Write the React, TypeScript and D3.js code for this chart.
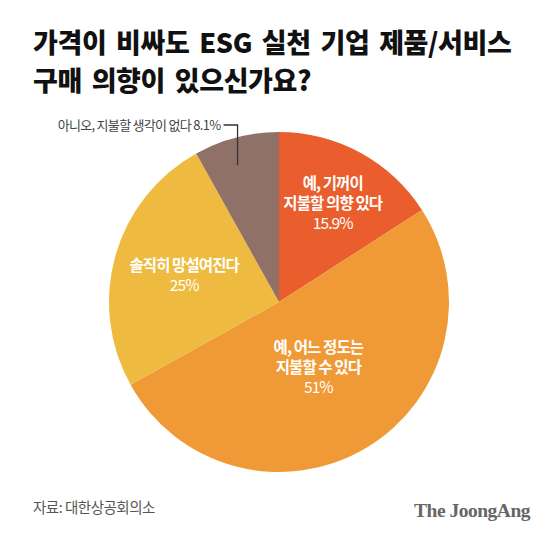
import React from "react";
import * as d3 from "d3";

const titleLines = ["가격이 비싸도 ESG 실천 기업 제품/서비스", "구매 의향이 있으신가요?"];
const categories = ["예, 기꺼이 지불할 의향 있다", "예, 어느 정도는 지불할 수 있다", "솔직히 망설여진다", "아니오, 지불할 생각이 없다"];
const values = [15.9, 51, 25, 8.1];
const valueLabels = ["15.9%", "51%", "25%", "8.1%"];
const labelLines = [["예, 기꺼이", "지불할 의향 있다"], ["예, 어느 정도는", "지불할 수 있다"], ["솔직히 망설여진다"], ["아니오, 지불할 생각이 없다"]];
const colors = ["#E95E2C", "#F09A37", "#EEBB40", "#8F7167"];
const source = "자료: 대한상공회의소";
const brand = "The JoongAng";

const W = 559;
const H = 543;
const cx = 279;
const cy = 302;
const R = 170;
// label distance from centre as a share of the radius, per slice
const labelRadius = [0.66, 0.45, 0.58, 0];
const KR = "'Noto Sans CJK KR', 'Noto Sans', sans-serif";

type Row = { name: string; value: number; i: number };

const App: React.FC = () => {
  const rows: Row[] = categories.map((name, i) => ({ name, value: values[i], i }));
  const pie = d3.pie<Row>().value(d => d.value).sort(null);
  const arcs = pie(rows);
  const arc = d3.arc<d3.PieArcDatum<Row>>().innerRadius(0).outerRadius(R);
  const lineH = 20;

  return (
    <div style={{ position: "fixed", left: 0, top: 0, width: W, height: H, background: "#fff" }}>
      <svg width={W} height={H} style={{ display: "block" }}>
        <rect width={W} height={H} fill="#fff" />
        {titleLines.map((t, i) => (
          <text
            key={t}
            x={33}
            y={53 + i * 38}
            fontFamily={KR}
            fontWeight={900}
            fontSize={27}
            letterSpacing={-0.4}
            wordSpacing={4}
            fill="#111"
          >
            {t}
          </text>
        ))}
        <g transform={`translate(${cx},${cy})`}>
          {arcs.map(a => (
            <path key={a.data.name} d={arc(a) ?? ""} fill={colors[a.data.i]} />
          ))}
          {arcs.map(a => {
            const i = a.data.i;
            if (labelRadius[i] === 0) return null;
            const mid = (a.startAngle + a.endAngle) / 2;
            const r = R * labelRadius[i];
            const x = Math.sin(mid) * r;
            const y = -Math.cos(mid) * r;
            const lines = [...labelLines[i], valueLabels[i]];
            const y0 = y - ((lines.length - 1) * lineH) / 2;
            return (
              <g key={"l" + i}>
                {lines.map((t, k) => (
                  <text
                    key={k}
                    x={x}
                    y={y0 + k * lineH}
                    dy="0.35em"
                    textAnchor="middle"
                    fontFamily={KR}
                    fontWeight={k === lines.length - 1 ? 400 : 700}
                    fontSize={15.5}
                    letterSpacing={-0.9}
                    fill="#fff"
                  >
                    {t}
                  </text>
                ))}
              </g>
            );
          })}
          {arcs
            .filter(a => labelRadius[a.data.i] === 0)
            .map(a => {
              const mid = (a.startAngle + a.endAngle) / 2 - 0.04;
              const px = Math.sin(mid) * R * 0.84;
              const py = -Math.cos(mid) * R * 0.84;
              const ly = 125 - cy;
              return (
                <g key="callout">
                  <path d={`M${px},${py}V${ly}H${px - 14}`} fill="none" stroke="#333" strokeWidth={1.3} />
                  <text x={px - 17} y={ly} dy="0.35em" textAnchor="end" fontFamily={KR} fontSize={13} letterSpacing={-0.7} fill="#444">
                    {labelLines[a.data.i][0]} {valueLabels[a.data.i]}
                  </text>
                </g>
              );
            })}
        </g>
        <text x={33} y={508} dy="0.35em" fontFamily={KR} fontSize={14.5} letterSpacing={-0.5} fill="#555">
          {source}
        </text>
        <text x={530} y={517} textAnchor="end" fontFamily="'Liberation Serif', 'DejaVu Serif', serif" fontWeight={700} fontSize={19.5} letterSpacing={-0.5} fill="#666">
          {brand}
        </text>
      </svg>
    </div>
  );
};

export default App;
